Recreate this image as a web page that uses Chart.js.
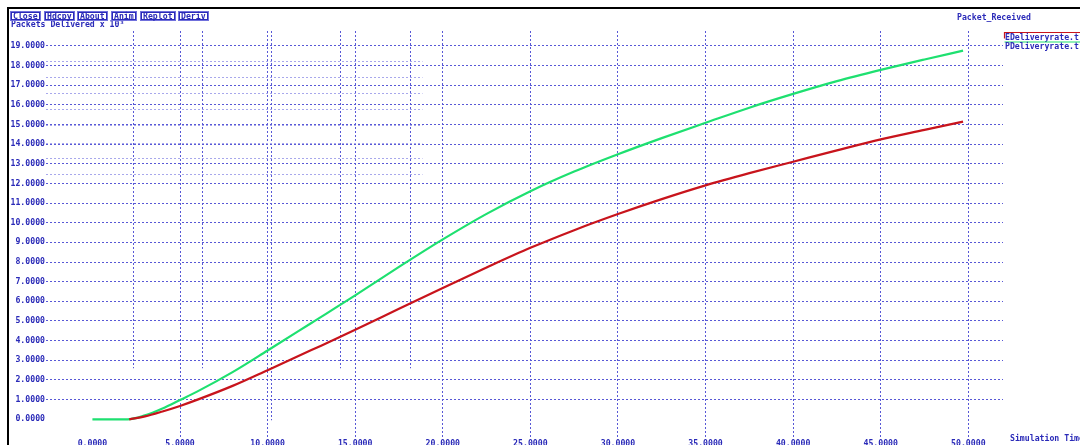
<!DOCTYPE html>
<html>
<head>
<meta charset="utf-8">
<script src="https://cdn.jsdelivr.net/npm/chart.js@4.4.1/dist/chart.umd.min.js"></script>
<style>
    html, body { margin: 0; padding: 0; background: #fff; }
    #wrap { width: 1080px; height: 445px; }
</style>
</head>
<body>
<div id="wrap"><canvas id="plot" width="1080" height="445"></canvas></div>
<script>
/* ── Data ────────────────────────────────────────────────── */
const timeE      = [2.1, 3, 4, 5, 6, 8, 10, 12.5, 15, 17.5, 20, 22.5, 25, 27.5, 30, 32.5, 35, 37.5, 40, 42.5, 45, 47.5, 49.7];
const eDelivered = [0, 0.15, 0.4, 0.68, 1.0, 1.7, 2.5, 3.52, 4.55, 5.62, 6.68, 7.72, 8.72, 9.62, 10.44, 11.2, 11.9, 12.52, 13.1, 13.68, 14.24, 14.72, 15.14];

const timeP      = [0, 2, 3, 4, 5, 6, 8, 10, 12.5, 15, 17.5, 20, 22.5, 25, 27.5, 30, 32.5, 35, 37.5, 40, 42.5, 45, 47.5, 49.7];
const pDelivered = [0, 0, 0.2, 0.55, 0.98, 1.42, 2.4, 3.5, 4.9, 6.3, 7.75, 9.15, 10.45, 11.6, 12.6, 13.48, 14.3, 15.08, 15.85, 16.55, 17.2, 17.77, 18.3, 18.75];

const seriesNames = ['EDeliveryrate.tr', 'PDeliveryrate.tr'];
const xTicks = [0, 5, 10, 15, 20, 25, 30, 35, 40, 45, 50];
const yTicks = [0, 1, 2, 3, 4, 5, 6, 7, 8, 9, 10, 11, 12, 13, 14, 15, 16, 17, 18, 19];

// leftover grid of an earlier redraw, still visible in the top-left corner
const ghostX      = [2.33, 6.26, 10.22, 14.14, 18.13];
const ghostXLow   = [2.6, 2.6, -0.05, 2.6, 2.6];
const ghostY      = [18.23, 17.43, 16.62, 15.77, 14.95, 14.07, 13.31, 12.46];
const ghostYRight = 18.84;

const buttons = ['Close', 'Hdcpy', 'About', 'Anim', 'Replot', 'Deriv'];

/* ── Style ───────────────────────────────────────────────── */
const BLUE  = '#2a2ab8';
const GRID  = '#5858d6';
const GHOST = '#a8a8ec';
const FONT  = { family: 'DejaVu Sans Mono', size: 8.2, weight: 'bold' };
const FONT_CSS = 'bold 8.2px "DejaVu Sans Mono"';

const gridColor = (ctx) => (ctx.tick && ctx.tick.value === 0 ? 'rgba(0,0,0,0)' : GRID);

const ghostGrid = {
    id : 'ghostGrid',
    beforeDatasetsDraw(chart) {
        const { ctx, chartArea, scales: { x, y } } = chart;
        ctx.save();
        ctx.lineWidth = 1;
        ctx.setLineDash([2, 2]);
        ctx.strokeStyle = GRID;
        ghostX.forEach((v, i) => {
            const px = Math.round(x.getPixelForValue(v)) + 0.5;
            ctx.beginPath();
            ctx.moveTo(px, chartArea.top);
            ctx.lineTo(px, y.getPixelForValue(ghostXLow[i]));
            ctx.stroke();
        });
        ctx.strokeStyle = GHOST;
        ghostY.forEach(v => {
            const py = Math.round(y.getPixelForValue(v)) + 0.5;
            ctx.beginPath();
            ctx.moveTo(chartArea.left, py);
            ctx.lineTo(x.getPixelForValue(ghostYRight), py);
            ctx.stroke();
        });
        ctx.restore();
    },
};

const windowChrome = {
    id : 'windowChrome',
    afterDraw(chart) {
        const { ctx } = chart;
        ctx.save();
        ctx.font = FONT_CSS;
        ctx.fillStyle = BLUE;
        ctx.textBaseline = 'alphabetic';

        // y-axis title, partly hidden by the button row
        ctx.fillText('Packets Delivered x 10³', 11, 26.5);

        // button row
        let bx = 10;
        buttons.forEach(b => {
            const w = ctx.measureText(b).width + 5.5;
            const x0 = Math.round(bx);
            const wr = Math.round(w);
            ctx.fillStyle = '#fff';
            ctx.fillRect(x0, 11, wr, 10);
            ctx.strokeStyle = '#7070dc';
            ctx.lineWidth = 1;
            ctx.strokeRect(x0 + 0.5, 11.5, wr, 9);
            ctx.strokeStyle = BLUE;
            ctx.strokeRect(x0 + 1.5, 12.5, wr - 2, 7);
            ctx.fillStyle = BLUE;
            ctx.fillText(b, x0 + 3, 19);
            bx += w + 3.5;
        });

        // plot title + legend
        ctx.fillText('Packet_Received', 957, 20);
        chart.data.datasets.forEach((ds, i) => {
            const top = 32.5 + i * 9.5;
            ctx.strokeStyle = ds.borderColor;
            ctx.lineWidth = 1.2;
            ctx.beginPath();
            if (i === 0) {
                ctx.moveTo(1004.5, top + 6);
                ctx.lineTo(1004.5, top);
            } else {
                ctx.moveTo(1004.5, top);
            }
            ctx.lineTo(1080, top);
            ctx.stroke();
            ctx.fillStyle = BLUE;
            ctx.fillText(ds.label, 1005, top + 7);
        });

        // x-axis title
        ctx.fillText('Simulation Time', 1010, 441);

        // window frame
        ctx.fillStyle = '#000';
        ctx.fillRect(7, 7, 1073, 2);
        ctx.fillRect(7, 7, 2, 438);
        ctx.restore();
    },
};

/* ── Chart ───────────────────────────────────────────────── */
new Chart(document.getElementById('plot'), {
    type : 'line',
    data : {
        datasets : [
            {
                label           : seriesNames[0],
                data            : timeE.map((t, i) => ({ x: t, y: eDelivered[i] })),
                borderColor     : '#c8141c',
                borderWidth     : 2.2,
                pointRadius     : 0,
                cubicInterpolationMode : 'monotone',
            },
            {
                label           : seriesNames[1],
                data            : timeP.map((t, i) => ({ x: t, y: pDelivered[i] })),
                borderColor     : '#1ee070',
                borderWidth     : 2.2,
                pointRadius     : 0,
                cubicInterpolationMode : 'monotone',
            },
        ],
    },
    options : {
        responsive : false,
        animation  : false,
        layout     : { padding: { left: 9, right: 77, top: 31, bottom: 0 } },
        plugins    : {
            legend  : { display: false },
            tooltip : { enabled: false },
        },
        scales : {
            x : {
                type  : 'linear',
                min   : -2.65,
                max   : 51.98,
                afterBuildTicks : s => { s.ticks = xTicks.map(v => ({ value: v })); },
                afterFit        : s => { s.height = 8; },
                grid   : { color: gridColor, lineWidth: 1, drawTicks: false },
                border : { display: false, dash: [2, 2] },
                ticks  : {
                    color       : BLUE,
                    font        : FONT,
                    padding     : 2,
                    maxRotation : 0,
                    autoSkip    : false,
                    callback    : v => v.toFixed(4),
                },
            },
            y : {
                min   : -0.9,
                max   : 19.75,
                afterBuildTicks : s => { s.ticks = yTicks.map(v => ({ value: v })); },
                afterFit        : s => { s.width = 37; },
                grid   : { color: gridColor, lineWidth: 1, drawTicks: false },
                border : { display: false, dash: [2, 2] },
                ticks  : {
                    color    : BLUE,
                    font     : FONT,
                    padding  : 1,
                    autoSkip : false,
                    callback : v => v.toFixed(4),
                },
            },
        },
    },
    plugins : [ghostGrid, windowChrome],
});
</script>
</body>
</html>
